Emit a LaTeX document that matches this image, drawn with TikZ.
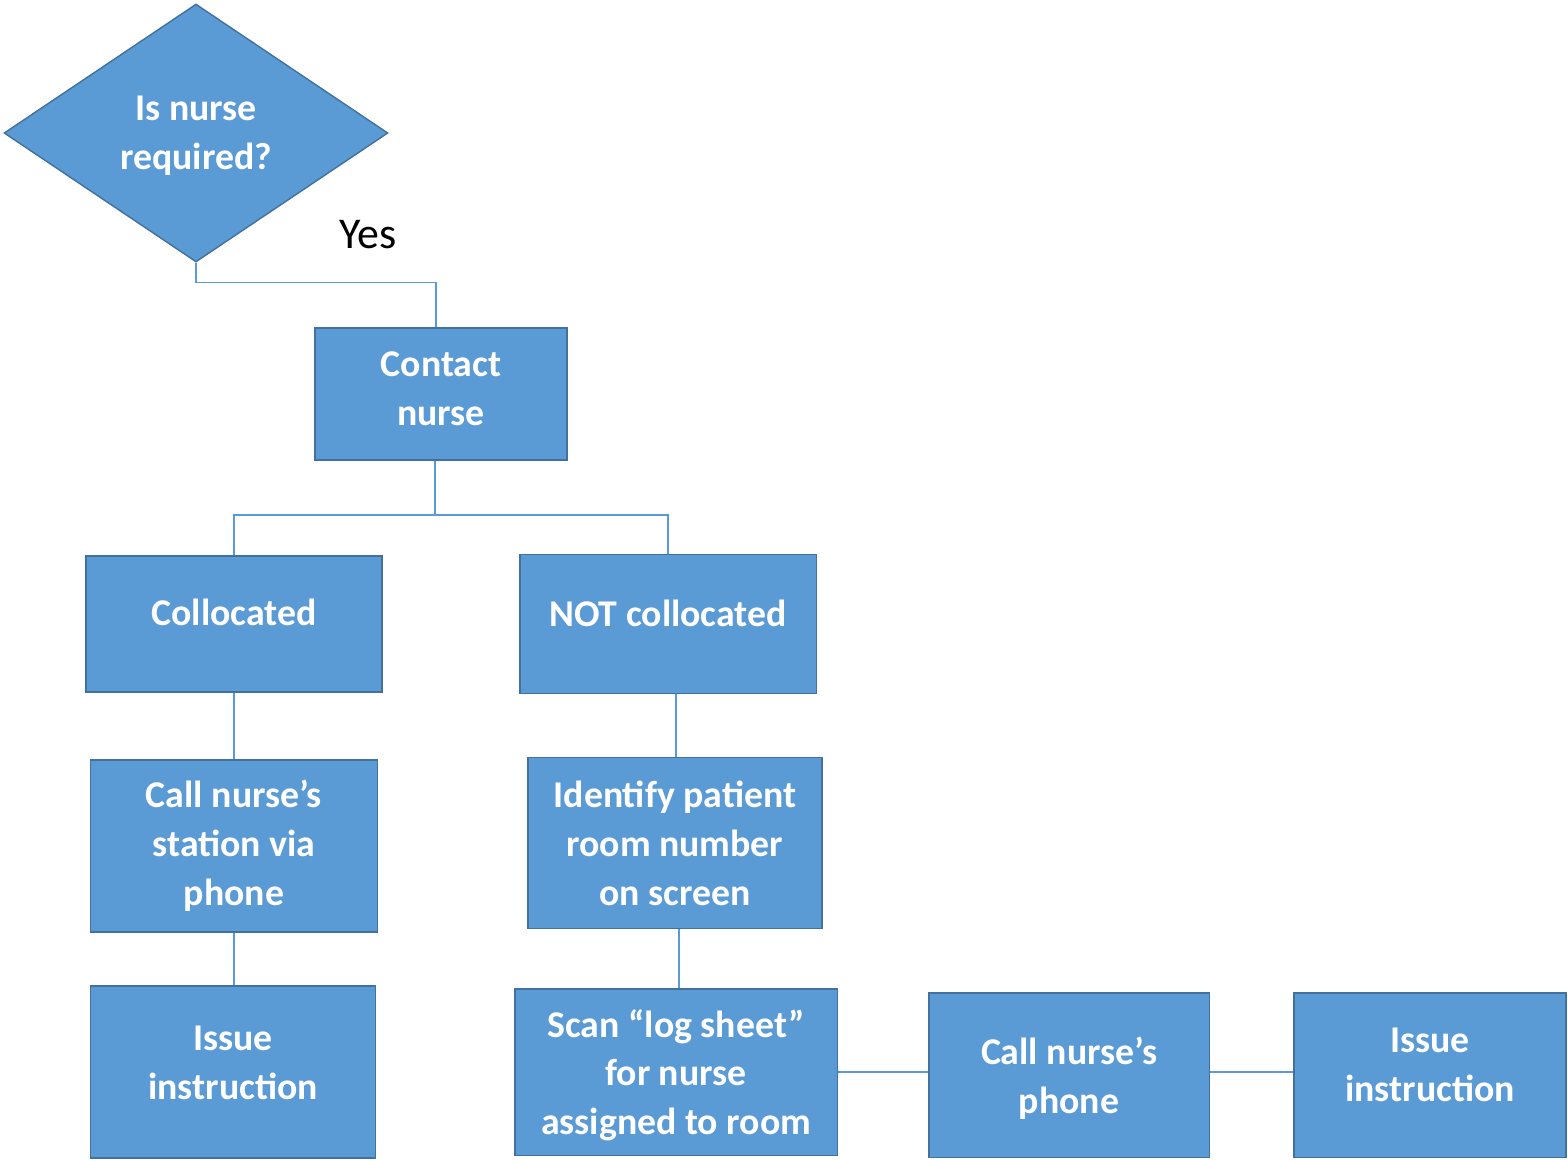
\documentclass[tikz,border=0pt]{standalone}
\usepackage{fontspec}
\setmainfont{Carlito}
\usepackage{tikz}
\usetikzlibrary{shapes.geometric, positioning, calc}
\definecolor{boxblue}{HTML}{5B9BD5}
\definecolor{edgeblue}{HTML}{41719C}

\begin{document}
\begin{tikzpicture}[
  x=0.02cm, y=-0.02cm,
  block/.style={draw=edgeblue, fill=boxblue, line width=1.1pt, inner sep=0pt, align=center, text=white, font=\fontsize{21.5}{27.8}\selectfont\bfseries},
  decision/.style={block, diamond, line width=0.8pt, minimum width=7.68cm, minimum height=5.16cm},
  link/.style={draw=boxblue, line width=0.7pt}
]
  \useasboundingbox (0,0) rectangle (1568,1160);

  % Blocks
  \node[decision, text depth=0pt] (need) at (196,133) {Is nurse\\required?};
  \node[block, text depth=0.2cm, minimum width=5.04cm, minimum height=2.64cm] (contact) at (441,394) {Contact\\nurse};

  \node[block, text depth=0.48cm, minimum width=5.92cm, minimum height=2.72cm] (coll) at (234,624) {Collocated};
  \node[block, text depth=0.44cm, minimum width=5.94cm, minimum height=2.78cm] (notcoll) at (668,624) {NOT collocated};

  \node[block, minimum width=5.74cm, minimum height=3.44cm] (station) at (234,846) {Call nurse’s\\station via\\phone};
  \node[block, minimum width=5.88cm, minimum height=3.42cm] (identify) at (675,843) {Identify patient\\room number\\on screen};

  \node[block, text depth=0.36cm, minimum width=5.70cm, minimum height=3.44cm] (issueA) at (233,1072) {Issue\\instruction};
  \node[block, text depth=0pt, minimum width=6.46cm, minimum height=3.34cm] (scan) at (676,1072) {Scan “log sheet”\\for nurse\\assigned to room};
  \node[block, text depth=0pt, minimum width=5.62cm, minimum height=3.30cm] (phone) at (1069,1075) {Call nurse’s\\phone};
  \node[block, text depth=0.4cm, minimum width=5.44cm, minimum height=3.30cm] (issueB) at (1430,1075) {Issue\\instruction};

  \node[font=\fontsize{25}{30}\selectfont] (yes) at (368,235) {Yes};

  % Connectors
  \coordinate (split) at ($(contact.south)+(0,54)$);
  \draw[link] (need.south) -- ++(0,20) -| ([xshift=-0.1cm]contact.north);
  \draw[link] ([xshift=-0.12cm]contact.south) -- ([xshift=-0.12cm]split);
  \draw[link] (coll.north) |- ([xshift=-0.12cm]split) -| (notcoll.north);
  \draw[link] (coll.south) -- (coll.south |- station.north);
  \draw[link] (station.south) -- (station.south |- issueA.north);
  \draw[link] ([xshift=0.16cm]notcoll.south) -- ([xshift=0.16cm]notcoll.south |- identify.north);
  \draw[link] ([xshift=0.08cm]identify.south) -- ([xshift=0.08cm]identify.south |- scan.north);
  \draw[link] (scan.east) -- (scan.east -| phone.west);
  \draw[link] (phone.east |- scan.east) -- (issueB.west |- scan.east);
\end{tikzpicture}
\end{document}
